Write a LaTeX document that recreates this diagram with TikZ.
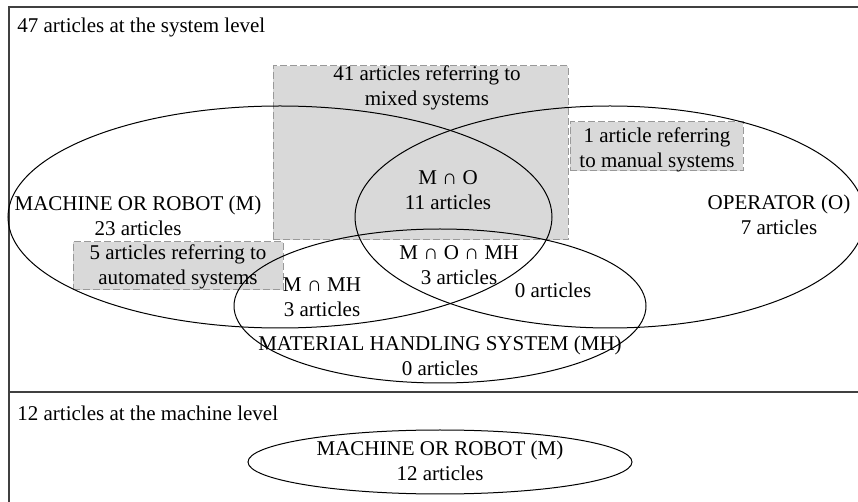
\documentclass[tikz,border=0pt]{standalone}
\usepackage{fontspec}
\setmainfont{Liberation Serif}
\usetikzlibrary{shapes.geometric}
\usetikzlibrary{positioning}
\tikzset{x=0.5pt,y=-0.5pt,
    every node/.style={
        font=\fontsize{10.5}{12.5}\selectfont,
        align=center,
        inner sep=0pt},
    venn/.style={
        ellipse,
        draw,
        line width=0.5pt,
        outer sep=0pt},
    shadebox/.style={
        rectangle,
        draw=black!40,
        fill=black!15,
        dash pattern=on 3.5pt off 1.5pt,
        line width=0.5pt},
    frame/.style={
        draw=black!75,
        line width=0.7pt}}

\begin{document}
\begin{tikzpicture}
        \useasboundingbox (0,0) rectangle (858,502);
        \draw[frame] (858,7) -- (9,7) -- (9,502);
        \draw[frame] (9,392) -- (858,392);

        \node[shadebox, minimum width=147.5pt, minimum height=87pt] (mixbox) at (420.5,153) {};
        \node[shadebox, minimum width=86.5pt, minimum height=24.5pt] (manbox) at (656.5,146.5) {};
        \node[shadebox, minimum width=105pt, minimum height=24pt] (autobox) at (178,266) {};

        \node[venn, minimum width=272pt, minimum height=111pt] (M) at (280,217) {};
        \node[venn, minimum width=255pt, minimum height=111pt] (O) at (610,217) {};
        \node[venn, minimum width=206pt, minimum height=77pt] (MH) at (440,306) {};
        \node[venn, minimum width=192pt, minimum height=32pt] (Mm) at (440,462) {};

        \node[anchor=west] (sys) at (17,27) {47 articles at the system level};
        \node (mix) at (427,88) {41 articles referring to\\mixed systems};
        \node (man) at (657,149.5) {1 article referring\\to manual systems};
        \node (auto) at (178,267) {5 articles referring to\\automated systems};
        \node (Mtxt) at (138,215.5) {MACHINE OR ROBOT (M)\\23 articles};
        \node (Otxt) at (779,215) {OPERATOR (O)\\7 articles};
        \node (MOtxt) at (448,190.5) {M ∩ O\\11 articles};
        \node (MMHtxt) at (322,297.5) {M ∩ MH\\3 articles};
        \node (MOMHtxt) at (459,265) {M ∩ O ∩ MH\\3 articles};
        \node (OMHtxt) at (553,290) {0 articles};
        \node (MHtxt) at (440,355.5) {MATERIAL HANDLING SYSTEM (MH)\\0 articles};

        \node[anchor=west] (mach) at (17,413) {12 articles at the machine level};
        \node (Mmtxt) at (440,460.5) {MACHINE OR ROBOT (M)\\12 articles};
    \end{tikzpicture}
\end{document}
